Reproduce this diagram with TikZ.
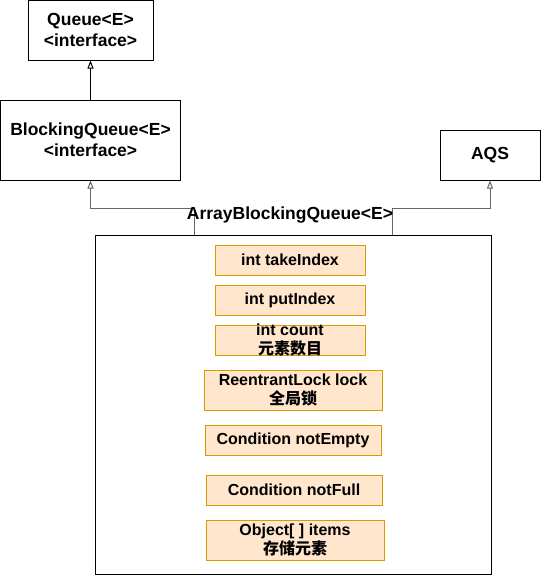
\documentclass[tikz,border=0pt]{standalone}
\usepackage{fontspec}
\setmainfont{Liberation Sans}
\newfontfamily\cjk{Noto Sans CJK SC}
\usetikzlibrary{arrows.meta,positioning,calc}
\definecolor{peach}{HTML}{FFE6CC}
\definecolor{peachline}{HTML}{D79B00}
\definecolor{conngray}{HTML}{666666}
\begin{document}
\begin{tikzpicture}[x=1pt,y=-1pt,
  outerbox/.style={draw=black, line width=1pt, fill=white, inner sep=0pt, align=center,
    font=\fontsize{17.5}{21}\selectfont\bfseries},
  field/.style={draw=peachline, fill=peach, line width=1pt, inner sep=0pt, align=center,
    font=\fontsize{16}{18.5}\selectfont\bfseries},
  conn/.style={draw=conngray, line width=1pt, -{Triangle[open,width=6pt,length=8pt]}},
  blackconn/.style={draw=black, line width=1pt, -{Triangle[open,width=6pt,length=8pt]}}
]
\useasboundingbox (0,0) rectangle (541,576);
% outer boxes
\node[outerbox, minimum width=125, minimum height=60] (queue) at (90.5,30) {Queue<E>\\<interface>};
\node[outerbox, minimum width=180, minimum height=80] (bq) at (90.5,140) {BlockingQueue<E>\\<interface>};
\node[outerbox, minimum width=100, minimum height=50] (aqs) at (490,155) {AQS};
\node[draw=black, line width=1pt, minimum width=396, minimum height=339, inner sep=0pt] (abq) at (293,405) {};
% connectors
\coordinate (j1) at (194,235);
\coordinate (j2) at (392,235);
\draw[blackconn] (bq.north) -- (queue.south);
\draw[conn] (j1) -- ++(0,-27) -| (bq.south);
\draw[conn] (j2) -- ++(0,-27) -| (aqs.south);
% title
\node[font=\fontsize{17.5}{21}\selectfont\bfseries, inner sep=0pt] (title) at (290,215) {ArrayBlockingQueue<E>};
% fields
\node[field, minimum width=150, minimum height=30] (take) at (290,260) {int takeIndex};
\node[field, minimum width=150, minimum height=30] (put) at (290,300) {int putIndex};
\node[field, minimum width=150, minimum height=30,
  label={[font=\fontsize{16}{18.5}\selectfont\bfseries, align=center, inner sep=0pt]center:int count\\{\cjk 元素数目}}] (count) at (290,340) {};
\node[field, minimum width=178, minimum height=40] (lock) at (293,390) {ReentrantLock lock\\{\cjk 全局锁}};
\node[field, minimum width=176, minimum height=30] (nempty) at (293,440) {Condition notEmpty};
\node[field, minimum width=176, minimum height=30] (nfull) at (294,490) {Condition notFull};
\node[field, minimum width=178, minimum height=40] (items) at (295,540) {Object[ ] items\\{\cjk 存储元素}};
\end{tikzpicture}
\end{document}
